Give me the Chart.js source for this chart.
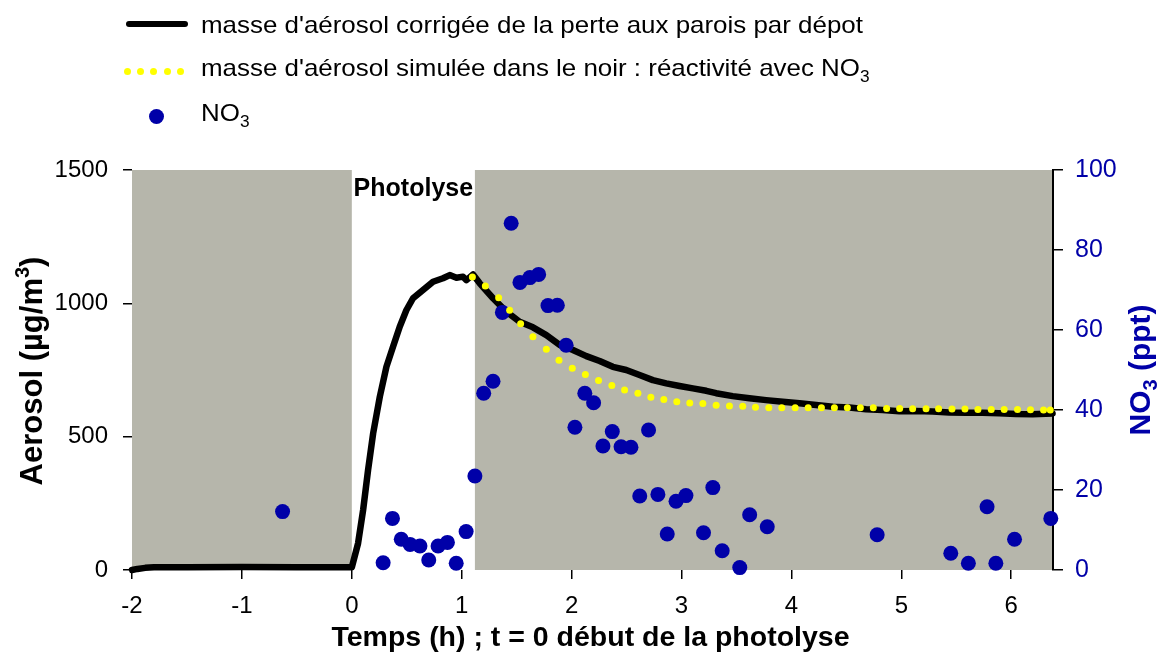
<!DOCTYPE html>
<html>
<head>
<meta charset="utf-8">
<title>Masse d'aérosol et NO3</title>
<script src="https://cdn.jsdelivr.net/npm/chart.js@4.4.1/dist/chart.umd.min.js"></script>
<style>
  html, body { margin: 0; padding: 0; background: #fff; }
  #wrap { position: relative; width: 1161px; height: 653px; font-family: "Liberation Sans", Arial, sans-serif; }
  #chart { position: absolute; left: 0; top: 0; }
  .leg { position: absolute; left: 201px; font-size: 24px; line-height: 24px; color: #000; white-space: nowrap;
         transform: scaleX(1.08); transform-origin: 0 0; }
  .leg sub { font-size: 16px; line-height: 0; vertical-align: -6px; }
  .bar { position: absolute; left: 126px; top: 21px; width: 62px; height: 6px; background: #000; border-radius: 3px; }
  .ydot { position: absolute; top: 68px; width: 7px; height: 7px; border-radius: 50%; background: #ffff00; }
  .bdot { position: absolute; left: 149px; top: 109px; width: 15px; height: 15px; border-radius: 50%; background: #0000a8; }
</style>
</head>
<body>
<div id="wrap">
  <canvas id="chart" width="1161" height="653"></canvas>
  <div class="bar"></div>
  <div class="leg" style="top:13px">masse d'aérosol corrigée de la perte aux parois par dépot</div>
  <div class="ydot" style="left:124px"></div>
  <div class="ydot" style="left:137px"></div>
  <div class="ydot" style="left:150px"></div>
  <div class="ydot" style="left:164px"></div>
  <div class="ydot" style="left:177px"></div>
  <div class="leg" style="top:56px">masse d'aérosol simulée dans le noir : réactivité avec NO<sub>3</sub></div>
  <div class="bdot"></div>
  <div class="leg" style="top:101px">NO<sub>3</sub></div>
</div>
<script>
// aerosol mass corrected for wall losses (µg/m3) vs time (h)
const aerosolTime = [-2, -1.95, -1.88, -1.8, -1.5, -1.0, -0.5, -0.2, 0.0, 0.057, 0.103, 0.148, 0.194, 0.255, 0.315, 0.375,
  0.436, 0.497, 0.557, 0.648, 0.739, 0.83, 0.891, 0.952, 1.012, 1.043, 1.103, 1.164, 1.285, 1.406, 1.527, 1.648,
  1.77, 1.891, 2.012, 2.134, 2.255, 2.375, 2.497, 2.618, 2.739, 2.861, 2.982, 3.103, 3.225, 3.315, 3.466, 3.618,
  3.77, 3.921, 4.073, 4.225, 4.376, 4.527, 4.679, 4.83, 4.982, 5.134, 5.285, 5.436, 5.588, 5.739, 5.891, 6.043,
  6.194, 6.376];
const aerosolMass = [0, 4, 8, 10, 10, 11, 10, 10, 10, 100, 225, 375, 512, 650, 762, 837,
  912, 975, 1019, 1050, 1081, 1094, 1106, 1096, 1100, 1087, 1108, 1075, 1019, 969, 931, 910,
  881, 844, 825, 802, 784, 762, 750, 731, 712, 700, 690, 681, 672, 663, 652, 644,
  637, 631, 625, 619, 612, 609, 603, 600, 595, 596, 594, 591, 590, 590, 588, 585,
  584, 587];

// simulated aerosol mass in the dark, reactivity with NO3
const simTime = [1.097, 1.215, 1.336, 1.436, 1.536, 1.648, 1.770, 1.885, 2.006, 2.125, 2.245, 2.366, 2.482, 2.603,
  2.721, 2.839, 2.957, 3.075, 3.194, 3.315, 3.436, 3.557, 3.673, 3.794, 3.912, 4.034, 4.152, 4.273, 4.391, 4.509,
  4.627, 4.745, 4.866, 4.985, 5.103, 5.225, 5.339, 5.461, 5.579, 5.697, 5.818, 5.936, 6.057, 6.175, 6.294, 6.355];
const simMass = [1099, 1065, 1021, 974, 923, 875, 828, 787, 757, 733, 711, 692, 675, 663,
  648, 639, 631, 626, 624, 618, 615, 614, 610, 608, 608, 608, 608, 608, 608, 608,
  608, 608, 606, 606, 605, 605, 605, 604, 604, 602, 602, 602, 602, 601, 600, 600];

// NO3 measurements (ppt)
const no3Time = [-0.63, 0.285, 0.37, 0.45, 0.53, 0.62, 0.70, 0.785, 0.87, 0.95, 1.04, 1.12, 1.2, 1.285, 1.37, 1.45,
  1.53, 1.62, 1.70, 1.785, 1.87, 1.95, 2.03, 2.12, 2.2, 2.285, 2.37, 2.45, 2.54, 2.62, 2.70, 2.785,
  2.87, 2.95, 3.04, 3.2, 3.285, 3.37, 3.53, 3.62, 3.78, 4.78, 5.45, 5.61, 5.78, 5.86, 6.03, 6.36];
const no3Ppt = [14.6, 1.8, 12.9, 7.7, 6.4, 6.0, 2.5, 6.0, 6.9, 1.7, 9.6, 23.5, 44.2, 47.2, 64.4, 86.7,
  71.9, 73.1, 73.9, 66.1, 66.2, 56.2, 35.7, 44.2, 41.8, 31.0, 34.6, 30.8, 30.7, 18.5, 35.0, 18.9,
  9.0, 17.2, 18.6, 9.3, 20.6, 4.8, 0.6, 13.8, 10.8, 8.8, 4.2, 1.7, 15.8, 1.7, 7.7, 12.9];

const xTicks = [-2, -1, 0, 1, 2, 3, 4, 5, 6];
const aerosolTicks = [0, 500, 1000, 1500];
const no3Ticks = [0, 20, 40, 60, 80, 100];

// lamps off before t = 0 and after t = 1.12 h
const darkPeriods = [[-2, 0], [1.12, 6.38]];
const lightLabel = 'Photolyse';

const FONT = '"Liberation Sans", Arial, sans-serif';
const BLUE = '#0000a8';
const GREY = 'rgb(182,182,171)';

const toPoints = (xs, ys) => xs.map((x, i) => ({ x: x, y: ys[i] }));
const plain = v => String(v);

// text in several pieces (sub/superscripts), centred on x
function drawPieces(ctx, pieces, x, y) {
  let total = 0;
  pieces.forEach(p => { ctx.font = p.font; total += ctx.measureText(p.text).width; });
  let cx = x - total / 2;
  ctx.textAlign = 'left';
  ctx.textBaseline = 'alphabetic';
  pieces.forEach(p => {
    ctx.font = p.font;
    ctx.fillText(p.text, cx, y + (p.dy || 0));
    cx += ctx.measureText(p.text).width;
  });
}

const shading = {
  id: 'shading',
  beforeDraw(chart) {
    const { ctx, chartArea, scales } = chart;
    ctx.save();
    ctx.fillStyle = GREY;
    darkPeriods.forEach(([a, b]) => {
      const x0 = scales.x.getPixelForValue(a);
      const x1 = scales.x.getPixelForValue(b);
      ctx.fillRect(x0, chartArea.top, x1 - x0, chartArea.bottom - chartArea.top);
    });
    // label over the lit period
    const lx = (scales.x.getPixelForValue(darkPeriods[0][1]) + scales.x.getPixelForValue(darkPeriods[1][0])) / 2;
    ctx.fillStyle = '#000';
    ctx.font = 'bold 25px ' + FONT;
    ctx.textAlign = 'center';
    ctx.textBaseline = 'alphabetic';
    ctx.fillText(lightLabel, lx, chartArea.top + 26);
    ctx.restore();
  }
};

const axisTitles = {
  id: 'axisTitles',
  afterDraw(chart) {
    const { ctx, chartArea } = chart;
    const midY = (chartArea.top + chartArea.bottom) / 2;
    const big = 'bold 31px ' + FONT;
    const small = 'bold 20px ' + FONT;
    ctx.save();
    ctx.fillStyle = '#000';
    drawPieces(ctx, [{ text: 'Temps (h) ; t = 0 début de la photolyse', font: 'bold 28.5px ' + FONT }],
      (chartArea.left + chartArea.right) / 2 - 2, 646);

    ctx.save();
    ctx.translate(42, midY + 1);
    ctx.rotate(-Math.PI / 2);
    drawPieces(ctx, [
      { text: 'Aerosol (µg/m', font: big },
      { text: '3', font: small, dy: -13 },
      { text: ')', font: big }
    ], 0, 0);
    ctx.restore();

    ctx.save();
    ctx.fillStyle = BLUE;
    ctx.translate(1150, midY);
    ctx.rotate(-Math.PI / 2);
    drawPieces(ctx, [
      { text: 'NO', font: 'bold 30px ' + FONT },
      { text: '3', font: small, dy: 7 },
      { text: ' (ppt)', font: 'bold 30px ' + FONT }
    ], 0, 0);
    ctx.restore();
    ctx.restore();
  }
};

const tickGrid = { drawOnChartArea: false, drawTicks: true, tickLength: 9, color: '#000', lineWidth: 1.5 };

new Chart(document.getElementById('chart'), {
  type: 'scatter',
  data: {
    datasets: [
      {
        label: "masse d'aérosol corrigée de la perte aux parois par dépot",
        data: toPoints(aerosolTime, aerosolMass),
        showLine: true,
        borderColor: '#000',
        borderWidth: 6.5,
        borderJoinStyle: 'round',
        borderCapStyle: 'round',
        pointRadius: 0,
        tension: 0,
        yAxisID: 'y',
        order: 2,
        clip: false
      },
      {
        label: 'NO3',
        data: toPoints(no3Time, no3Ppt),
        backgroundColor: BLUE,
        borderWidth: 0,
        pointRadius: 7.5,
        yAxisID: 'y2',
        order: 1,
        clip: false
      },
      {
        label: "masse d'aérosol simulée dans le noir : réactivité avec NO3",
        data: toPoints(simTime, simMass),
        backgroundColor: '#ffff00',
        borderWidth: 0,
        pointRadius: 3.5,
        yAxisID: 'y',
        order: 0,
        clip: false
      }
    ]
  },
  options: {
    responsive: false,
    animation: false,
    layout: { padding: { top: 170, left: 0, right: 0, bottom: 0 } },
    plugins: { legend: { display: false }, tooltip: { enabled: false } },
    scales: {
      x: {
        type: 'linear',
        position: 'bottom',
        min: -2,
        max: 6.38,
        afterBuildTicks: s => { s.ticks = xTicks.map(v => ({ value: v })); },
        afterFit: s => { s.height = 83; },
        grid: tickGrid,
        border: { display: false },
        ticks: { color: '#000', font: { family: FONT, size: 24 }, padding: 13, maxRotation: 0, autoSkip: false, callback: plain }
      },
      y: {
        type: 'linear',
        position: 'left',
        min: 0,
        max: 1500,
        afterBuildTicks: s => { s.ticks = aerosolTicks.map(v => ({ value: v })); },
        afterFit: s => { s.width = 132; },
        grid: tickGrid,
        border: { display: false },
        ticks: { color: '#000', font: { family: FONT, size: 24 }, padding: 15, callback: plain }
      },
      y2: {
        type: 'linear',
        position: 'right',
        min: 0,
        max: 100,
        afterBuildTicks: s => { s.ticks = no3Ticks.map(v => ({ value: v })); },
        afterFit: s => { s.width = 108; },
        grid: { drawOnChartArea: false, drawTicks: true, tickLength: 10, color: '#000', lineWidth: 1.5 },
        border: { display: true, color: '#000', width: 2 },
        ticks: { color: BLUE, font: { family: FONT, size: 25 }, padding: 12, callback: plain }
      }
    }
  },
  plugins: [shading, axisTitles]
});
</script>
</body>
</html>
